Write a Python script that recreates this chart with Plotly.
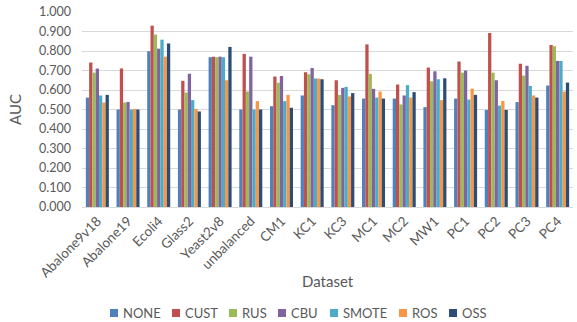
import plotly.graph_objects as go

datasets = ["Abalone9v18", "Abalone19", "Ecoli4", "Glass2", "Yeast2v8", "unbalanced",
            "CM1", "KC1", "KC3", "MC1", "MC2", "MW1", "PC1", "PC2", "PC3", "PC4"]

none_auc  = [0.561, 0.500, 0.799, 0.500, 0.768, 0.500, 0.517, 0.572, 0.522, 0.556, 0.556, 0.512, 0.556, 0.498, 0.538, 0.623]
cust_auc  = [0.741, 0.710, 0.930, 0.647, 0.771, 0.785, 0.669, 0.691, 0.650, 0.834, 0.628, 0.715, 0.746, 0.892, 0.735, 0.831]
rus_auc   = [0.689, 0.536, 0.884, 0.587, 0.768, 0.592, 0.637, 0.681, 0.575, 0.683, 0.526, 0.645, 0.689, 0.689, 0.674, 0.824]
cbu_auc   = [0.710, 0.539, 0.812, 0.683, 0.771, 0.771, 0.672, 0.713, 0.611, 0.606, 0.572, 0.696, 0.700, 0.650, 0.724, 0.749]
smote_auc = [0.572, 0.500, 0.858, 0.548, 0.768, 0.500, 0.543, 0.659, 0.616, 0.561, 0.625, 0.655, 0.551, 0.520, 0.621, 0.749]
ros_auc   = [0.536, 0.503, 0.771, 0.503, 0.650, 0.543, 0.575, 0.659, 0.567, 0.592, 0.561, 0.548, 0.607, 0.544, 0.572, 0.592]
oss_auc   = [0.575, 0.500, 0.838, 0.490, 0.821, 0.500, 0.509, 0.655, 0.584, 0.556, 0.589, 0.660, 0.575, 0.498, 0.561, 0.638]

method_names = ["NONE", "CUST", "RUS", "CBU", "SMOTE", "ROS", "OSS"]
method_values = [none_auc, cust_auc, rus_auc, cbu_auc, smote_auc, ros_auc, oss_auc]
method_colors = ["#4F81BD", "#C0504D", "#9BBB59", "#8064A2", "#4BACC6", "#F79646", "#2C4D75"]

y_ticks = [i / 10 for i in range(11)]

FONT = "Lato, 'Liberation Sans', sans-serif"
GREY = "#595959"

W, H = 577, 322
L, R, T, B = 82, 4, 12, 115
PW, PH = W - L - R, H - T - B


def px_to_paper(px, py):
    """Convert a pixel position on the page to paper coordinates."""
    return (px - L) / PW, (H - B - py) / PH


fig = go.Figure()
for name, vals, color in zip(method_names, method_values, method_colors):
    fig.add_trace(go.Bar(x=datasets, y=vals, name=name, showlegend=False,
                         marker=dict(color=color, line=dict(width=0))))

# Legend row below the axis title: small square swatch followed by the method name
shapes = []
annotations = [dict(text="Dataset", xref="paper", yref="paper",
                    x=px_to_paper(328, 0)[0], y=px_to_paper(0, 281)[1],
                    showarrow=False, font=dict(size=15, color=GREY),
                    xanchor="center", yanchor="middle")]
legend_x = [110, 172, 229, 278, 330, 399, 449]
legend_y = 313
for name, color, lx in zip(method_names, method_colors, legend_x):
    x0, y0 = px_to_paper(lx, legend_y + 4)
    x1, y1 = px_to_paper(lx + 8, legend_y - 4)
    shapes.append(dict(type="rect", xref="paper", yref="paper", x0=x0, x1=x1, y0=y0, y1=y1,
                       fillcolor=color, line=dict(width=0)))
    tx, ty = px_to_paper(lx + 11, legend_y)
    annotations.append(dict(text=name, xref="paper", yref="paper", x=tx, y=ty,
                            showarrow=False, xanchor="left", yanchor="middle",
                            font=dict(size=13, color=GREY)))

fig.update_layout(
    width=W, height=H,
    margin=dict(l=L, r=R, t=T, b=B),
    paper_bgcolor="white", plot_bgcolor="white",
    barmode="group", bargap=0.25, bargroupgap=0,
    font=dict(family=FONT, size=13, color=GREY),
    showlegend=False,
    shapes=shapes,
    annotations=annotations,
)

fig.update_xaxes(tickangle=-45, showline=True, linecolor="#D9D9D9", linewidth=1,
                 ticks="", tickfont=dict(size=13.5, color=GREY), automargin=False)
fig.update_yaxes(range=[0, 1.0], tickvals=y_ticks, tickformat=".3f",
                 showgrid=True, gridcolor="#D9D9D9", gridwidth=1, zeroline=False,
                 showline=False, ticks="", tickfont=dict(size=12.5, color=GREY),
                 ticklabelstandoff=10,
                 title=dict(text="AUC", font=dict(size=15, color=GREY), standoff=13),
                 automargin=False)

fig.write_html("out.html")
